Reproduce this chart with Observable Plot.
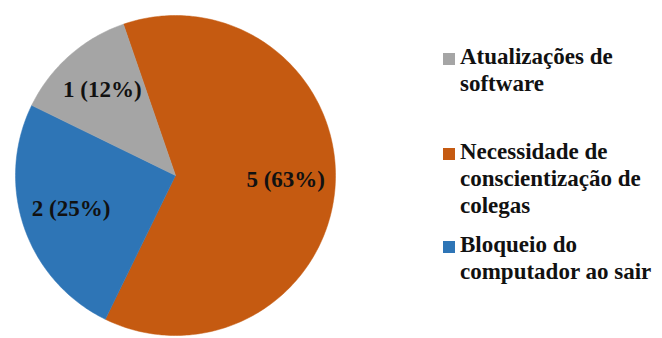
<!DOCTYPE html>
<html>
<head>
<meta charset="utf-8">
<script src="https://cdn.jsdelivr.net/npm/d3@7"></script>
<script src="https://cdn.jsdelivr.net/npm/@observablehq/plot@0.6"></script>
<style>
  body { margin: 0; background: #fff; }
  #wrap { position: relative; width: 662px; height: 338px; overflow: hidden; }
  #chart { position: absolute; left: 0; top: 0; }
  .leg { position: absolute; left: 443px; font-family: 'Liberation Serif', Tinos, 'Times New Roman', 'DejaVu Serif', serif;
         font-weight: 700; font-size: 23px; line-height: 27px; color: #111; }
  .leg .sw { position: absolute; left: 0; width: 12px; height: 12px; top: 10px; }
  .leg .tx { position: absolute; left: 17px; width: 205px; top: 0; }
  #chart text { font-family: 'Liberation Serif', Tinos, 'Times New Roman', 'DejaVu Serif', serif; }
</style>
</head>
<body>
<div id="wrap"><div id="chart"></div></div>
<script>
// Data (clockwise order from the top-left boundary)
const categories = ["Necessidade de conscientização de colegas", "Bloqueio do computador ao sair", "Atualizações de software"];
const counts = [5, 2, 1];
const percentLabels = ["63%", "25%", "12%"];
const colors = ["#C55A11", "#2E75B6", "#A5A5A5"];
// legend order (as in the reference)
const legendOrder = ["Atualizações de software", "Necessidade de conscientização de colegas", "Bloqueio do computador ao sair"];

const startDeg = -19;
const pie = d3.pie().sort(null).value(d => d.count)
  .startAngle(startDeg * Math.PI / 180).endAngle((startDeg + 360) * Math.PI / 180);
const rows = categories.map((c, i) => ({category: c, count: counts[i], pct: percentLabels[i]}));
const arcs = pie(rows);

// polygon outline of each slice (center + arc)
const poly = [];
arcs.forEach(a => {
  const c = a.data.category;
  poly.push({category: c, x: 0, y: 0});
  const n = Math.max(2, Math.ceil((a.endAngle - a.startAngle) / (Math.PI / 180)));
  for (let k = 0; k <= n; k++) {
    const t = a.startAngle + (a.endAngle - a.startAngle) * k / n;
    poly.push({category: c, x: Math.sin(t), y: Math.cos(t)});
  }
  poly.push({category: c, x: 0, y: 0});
});

const labelR = 0.69;
const labels = arcs.map(a => {
  const m = (a.startAngle + a.endAngle) / 2;
  return {x: labelR * Math.sin(m), y: labelR * Math.cos(m), text: `${a.data.count} (${a.data.pct})`};
});

const chart = Plot.plot({
  width: 662, height: 338,
  marginLeft: 15, marginRight: 327, marginTop: 15, marginBottom: 3,
  x: {domain: [-1, 1], axis: null},
  y: {domain: [-1, 1], axis: null},
  color: {domain: categories, range: colors},
  marks: [
    Plot.line(poly, {x: "x", y: "y", z: "category", fill: "category", stroke: "category", strokeWidth: 0.5, curve: "linear"}),
    Plot.text(labels, {x: "x", y: "y", dy: -3, text: "text", fontSize: 23, fontWeight: "bold", fill: "#111"})
  ]
});
document.getElementById("chart").appendChild(chart);

// legend
const tops = [43, 138, 231];
const wrap = document.getElementById("wrap");
legendOrder.forEach((name, i) => {
  const ci = categories.indexOf(name);
  const div = document.createElement("div");
  div.className = "leg";
  div.style.top = tops[i] + "px";
  div.innerHTML = `<div class="sw" style="background:${colors[ci]}"></div><div class="tx"></div>`;
  div.querySelector(".tx").textContent = name;
  wrap.appendChild(div);
});
</script>
</body>
</html>
